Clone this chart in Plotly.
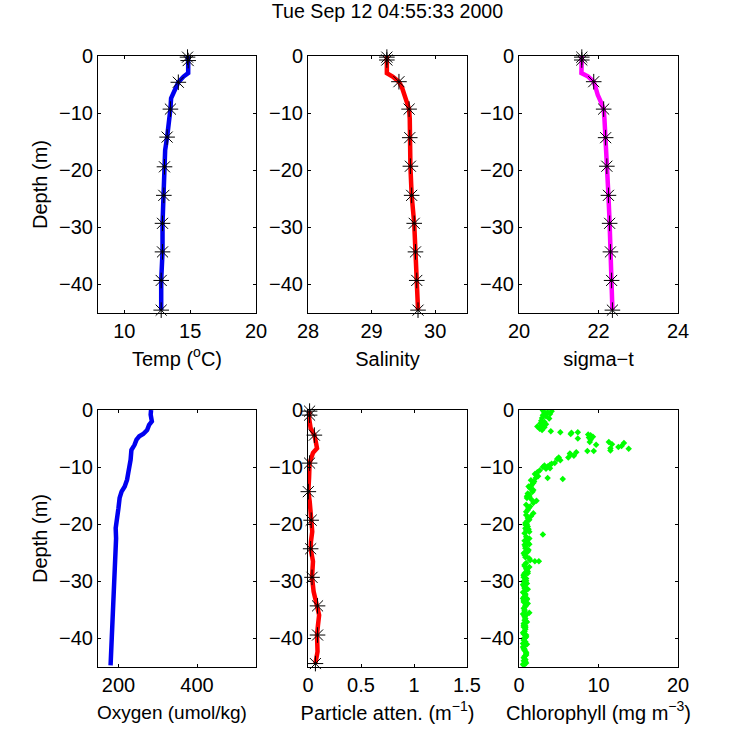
import plotly.graph_objects as go

title_text = "Tue Sep 12 04:55:33 2000"

temp_depth = [0, -0.8, -3.0, -3.6, -4.6, -5.8, -7.4, -9.3, -11.5, -14.2, -16.5, -19.4, -24.4, -29.3, -34.3, -39.3, -44.5]
temp_value = [14.8, 14.85, 14.85, 14.5, 14.1, 13.9, 13.55, 13.5, 13.35, 13.25, 13.1, 13.05, 13.0, 12.9, 12.9, 12.8, 12.8]
temp_mark_depth = [-0.2, -0.8, -4.6, -9.3, -14.2, -19.4, -24.4, -29.3, -34.3, -39.3, -44.5]
temp_mark_value = [14.8, 14.85, 14.1, 13.5, 13.25, 13.05, 13.0, 12.9, 12.9, 12.8, 12.8]

sal_depth = [0, -0.7, -3.0, -3.6, -4.5, -5.6, -7.0, -8.2, -9.3, -11, -14.3, -19.3, -24.4, -29.3, -34.3, -39.3, -44.5]
sal_value = [29.24, 29.24, 29.24, 29.33, 29.43, 29.48, 29.52, 29.56, 29.59, 29.6, 29.6, 29.61, 29.63, 29.67, 29.69, 29.71, 29.73]
sal_mark_depth = [-0.2, -0.7, -4.5, -9.3, -14.3, -19.3, -24.4, -29.3, -34.3, -39.3, -44.5]
sal_mark_value = [29.24, 29.24, 29.43, 29.59, 29.6, 29.61, 29.63, 29.67, 29.69, 29.71, 29.73]

sig_depth = [0, -0.7, -3.0, -3.6, -4.5, -5.6, -6.8, -8.2, -9.3, -11, -14.3, -19.3, -24.4, -29.3, -34.3, -39.3, -44.5]
sig_value = [21.58, 21.58, 21.57, 21.74, 21.88, 21.93, 21.98, 22.07, 22.13, 22.15, 22.18, 22.21, 22.25, 22.28, 22.3, 22.33, 22.35]
sig_mark_depth = [-0.2, -0.7, -4.5, -9.3, -14.3, -19.3, -24.4, -29.3, -34.3, -39.3, -44.5]
sig_mark_value = [21.58, 21.58, 21.88, 22.13, 22.18, 22.21, 22.25, 22.28, 22.3, 22.33, 22.35]

oxy_depth = [0, -0.8, -2, -2.6, -3.5, -4.2, -4.6, -5.2, -6.1, -7, -8.7, -9.9, -11, -12.2, -13.4, -14.3, -15.4, -17.2, -19.2, -20.7, -22.5, -25.4, -27.7, -31.2, -33.6, -37.1, -40, -42.3, -44.7]
oxy_value = [283, 282, 285, 278, 273, 263, 253, 246, 241, 233, 231, 229, 225, 222, 216, 208, 203, 200, 197, 193, 194, 192, 190, 187, 185, 183, 183, 181, 180]

par_depth = [-0.2, -1.4, -3.2, -4.4, -5.2, -6.7, -7.5, -8.4, -9.3, -11.9, -14.3, -16, -17.4, -19.3, -21.3, -23, -24.3, -26.5, -29.3, -31.8, -34.3, -35.9, -37.7, -39.4, -42.3, -44.4]
par_value = [0.015, 0.01, 0.025, 0.06, 0.07, 0.085, 0.047, 0.03, 0.015, 0.01, 0.003, 0.016, 0.022, 0.035, 0.04, 0.028, 0.025, 0.047, 0.038, 0.053, 0.09, 0.105, 0.094, 0.085, 0.09, 0.07]
par_mark_depth = [-0.2, -0.9, -4.4, -9.3, -14.3, -19.3, -24.3, -29.3, -34.3, -39.4, -44.4]
par_mark_value = [0.015, 0.015, 0.06, 0.015, 0.003, 0.03, 0.025, 0.038, 0.09, 0.09, 0.07]

chl_value = [3.0, 4.1, 3.6, 3.2, 3.9, 3.0, 3.4, 2.9, 3.8, 2.8, 3.2, 2.7, 3.4, 3.0, 2.3, 2.7, 3.2, 2.9, 2.6,
             4.0, 5.2, 6.5, 6.6, 7.4, 7.4, 8.7, 9.0, 9.3, 8.8, 9.0, 8.9, 9.7, 11.3, 11.7, 11.5, 11.5, 13.2, 12.9, 12.5, 13.8,
             9.4, 8.6, 7.2, 6.9, 6.4, 6.2, 6.5, 5.0, 5.2, 4.8, 4.5, 4.1, 3.9, 3.6, 3.2, 3.0, 3.4, 3.9, 3.6, 5.5,
             2.6, 2.3, 2.0, 2.4, 2.1, 1.8, 1.6, 1.4, 1.8, 1.1, 1.3, 1.0, 1.6, 2.2, 1.8, 1.4, 1.1, 1.8, 0.9, 1.1, 1.3,
             0.8, 1.1, 0.9, 1.3, 3.0, 0.9, 1.3, 0.7, 1.0,
             1.1, 0.7, 1.3, 0.8, 1.1, 0.7, 1.3, 2.0, 2.5, 0.9, 1.4, 0.7, 1.3, 1.0, 0.7, 1.1, 0.6, 0.8,
             0.5, 0.7, 0.6, 0.8, 1.0, 0.6, 1.1, 0.8, 0.6, 1.3, 0.7, 0.6, 0.8, 0.7, 0.9, 0.6, 0.8, 0.6, 0.9, 0.7, 0.9, 0.6,
             1.5, 1.2, 1.0, 1.2, 0.9, 1.0, 0.8, 0.9, 0.7, 0.8, 0.9, 0.7, 0.8, 0.6, 0.7, 0.9, 0.7, 0.8, 0.6, 0.7, 0.8,
             2.2, 1.9, 1.5, 1.7, 1.3, 0.9, 1.2, 1.5, 1.0, 0.8, 1.2, 0.7, 1.0, 0.8, 1.2, 0.6, 0.9, 0.7, 1.1, 0.6,
             0.9, 0.6, 1.0, 0.7, 1.1, 0.5, 0.8, 1.0, 0.6, 0.9, 0.7, 0.5, 0.8, 1.0, 0.6, 0.8, 0.5, 0.9, 0.6, 0.8,
             1.0, 0.5, 0.7, 0.9, 0.6, 0.8, 0.5, 0.7, 0.9, 0.6, 0.8, 0.5, 0.7, 0.9, 0.6, 0.8, 0.5, 0.7, 0.9, 0.6]
chl_depth = [-0.1, -0.2, -0.4, -0.5, -0.7, -0.9, -1.1, -1.4, -1.5, -1.9, -2.1, -2.3, -2.5, -2.7, -2.9, -3.0, -3.0, -3.5, -3.3,
             -3.7, -3.9, -4.2, -4.0, -3.9, -5.0, -4.3, -4.4, -4.7, -4.8, -5.2, -5.6, -6.1, -5.6, -6.0, -6.7, -7.1, -5.8, -6.3, -6.5, -6.8,
             -7.2, -7.2, -7.4, -8.0, -7.6, -8.3, -7.8, -8.3, -8.8, -8.6, -9.3, -9.4, -9.6, -9.9, -9.7, -10, -10.3, -10.2, -11.9, -12.1,
             -10.6, -10.9, -11.2, -11.6, -11.9, -12.8, -13.1, -13.7, -14, -14.6, -14.9, -15.4, -15.7, -15.9, -16.3, -16.9, -17.5, -18.1, -18.4, -18.9, -19.2,
             -19.8, -20.4, -21, -21.3, -21.8, -22.2, -22.5, -22.9, -23.3,
             -23.2, -23.6, -23.5, -24.2, -24.8, -25.4, -26, -26.5, -26.5, -26.8, -26.3, -27.1, -27.5, -28, -28.6, -28.6, -29.3, -29.8,
             -30.6, -31.2, -32, -32.4, -33.2, -33.6, -33.9, -34.4, -34.7, -35.5, -36.2, -37.4, -38.1, -38.8, -39.7, -40.3, -41.2, -41.8, -42.4, -43.1, -44.3, -44.7,
             -12.3, -13.4, -15.1, -17.1, -17.8, -20, -20.7, -23, -25, -25.8, -27.8, -30.2, -31.6, -32.8, -35, -35.9, -36.8, -37.8, -39.2, -40.8, -43.7,
             -11.4, -12.5, -13.3, -14.3, -15.2, -16.6, -17.2, -18.6, -19.5, -20.1, -20.9, -21.6, -22.7, -23.9, -24.5, -25.1, -25.6, -27.3, -28.3, -29.0,
             -29.5, -30.0, -30.4, -30.9, -31.4, -31.9, -32.2, -33.0, -33.4, -34.1, -35.2, -35.7, -36.5, -37.1, -37.7, -38.4, -39.0, -39.4, -40.0, -40.6,
             -41.0, -41.5, -42.1, -42.7, -43.4, -44.0, -44.5, -36.0, -37.0, -38.0, -39.9, -40.9, -41.9, -42.9, -43.9, -34.2, -33.0, -31.0, -29.9, -28.9]

panels = [
    dict(xr=[8, 20], xt=[10, 15, 20], label="Temp (<sup>o</sup>C)", col=0, row=0, lines=(temp_value, temp_depth), marks=(temp_mark_value, temp_mark_depth), color="#0000f0"),
    dict(xr=[28, 30.5], xt=[28, 29, 30], label="Salinity", col=1, row=0, lines=(sal_value, sal_depth), marks=(sal_mark_value, sal_mark_depth), color="#ff0000"),
    dict(xr=[20, 24], xt=[20, 22, 24], label="sigma\u2212t", col=2, row=0, lines=(sig_value, sig_depth), marks=(sig_mark_value, sig_mark_depth), color="#ff00ff"),
    dict(xr=[148, 550], xt=[200, 400], label=None, col=0, row=1, lines=(oxy_value, oxy_depth), marks=None, color="#0000f0"),
    dict(xr=[0, 1.5], xt=[0, 0.5, 1, 1.5], label="Particle atten. (m<sup>\u22121</sup>)", col=1, row=1, lines=(par_value, par_depth), marks=(par_mark_value, par_mark_depth), color="#ff0000"),
    dict(xr=[0, 20], xt=[0, 10, 20], label="Chlorophyll (mg m<sup>\u22123</sup>)", col=2, row=1, lines=None, marks=None, color="#00ff00"),
]

ML, MR, MT, MB = 70, 50, 40, 60
PW, PH = 750.0 - ML - MR, 750.0 - MT - MB
left = [98, 308, 519]
right = [256, 467, 678]
top = [56, 410]
bot = [313, 667]
FONT = "Liberation Sans"
TS = 20

fig = go.Figure()
layout = {}
for i, p in enumerate(panels, start=1):
    sfx = "" if i == 1 else str(i)
    c, r = p["col"], p["row"]
    xa_cfg = dict(
        domain=[(left[c] - ML) / PW, (right[c] - ML) / PW], anchor="y" + sfx, range=p["xr"],
        tickmode="array", tickvals=p["xt"], ticks="inside", ticklen=3, tickcolor="black", tickwidth=1,
        showline=True, linecolor="black", linewidth=1, mirror="ticks", showgrid=False, zeroline=False,
        tickfont=dict(family=FONT, size=TS, color="black"),
    )
    if p["label"]:
        xa_cfg["title"] = dict(text=p["label"], font=dict(family=FONT, size=TS, color="black"), standoff=10)
    layout["xaxis" + sfx] = xa_cfg
    ya_cfg = dict(
        domain=[(750 - MB - bot[r]) / PH, (750 - MB - top[r]) / PH], anchor="x" + sfx, range=[-45, 0],
        tickmode="array", tickvals=[0, -10, -20, -30, -40], ticks="inside", ticklen=3, tickcolor="black", tickwidth=1,
        showline=True, linecolor="black", linewidth=1, mirror="ticks", showgrid=False, zeroline=False,
        tickfont=dict(family=FONT, size=TS, color="black"),
    )
    if c == 0:
        ya_cfg["title"] = dict(text="Depth (m)", font=dict(family=FONT, size=TS, color="black"), standoff=6)
    layout["yaxis" + sfx] = ya_cfg
    xa, ya = "x" + sfx, "y" + sfx
    if p["lines"]:
        fig.add_trace(go.Scatter(x=p["lines"][0], y=p["lines"][1], mode="lines", xaxis=xa, yaxis=ya,
                                 line=dict(color=p["color"], width=4.5), showlegend=False))
    if p["marks"]:
        fig.add_trace(go.Scatter(x=p["marks"][0], y=p["marks"][1], mode="markers", xaxis=xa, yaxis=ya,
                                 marker=dict(symbol="asterisk-open", size=13, color="black", line=dict(color="black", width=1)),
                                 showlegend=False, cliponaxis=False))
    if i == 6:
        fig.add_trace(go.Scatter(x=chl_value, y=chl_depth, mode="markers", xaxis=xa, yaxis=ya,
                                 marker=dict(symbol="diamond", size=5, color=p["color"]), showlegend=False))

fig.add_annotation(text="Oxygen (umol/kg)", xref="paper", yref="paper", showarrow=False,
                   x=(171.5 - ML) / PW, y=(750 - MB - 712) / PH, xanchor="center", yanchor="middle",
                   font=dict(family=FONT, size=19, color="black"))

fig.update_layout(
    width=750, height=750, autosize=False, margin=dict(l=ML, r=MR, t=MT, b=MB),
    paper_bgcolor="white", plot_bgcolor="white",
    title=dict(text=title_text, x=387.5 / 750, xanchor="center", y=1 - 11 / 750, yanchor="middle",
               font=dict(family=FONT, size=19.6, color="black")),
    **layout,
)
fig.write_html("out.html", config={"displayModeBar": False},
               post_script="document.body.style.margin='0';")
